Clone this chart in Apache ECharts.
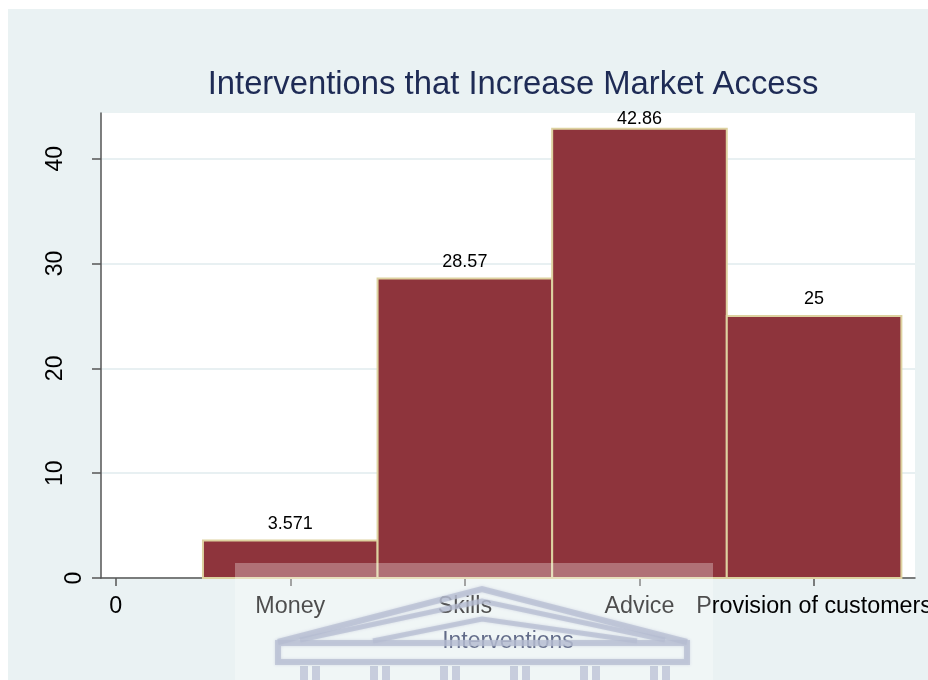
<!DOCTYPE html>
<html><head><meta charset="utf-8">
<script src="https://cdn.jsdelivr.net/npm/echarts@6/dist/echarts.min.js"></script>
<style>html,body{margin:0;padding:0;background:#fff}#c{width:928px;height:680px}</style>
</head><body><div id="c"></div>
<script>
const categories = ['Money', 'Skills', 'Advice', 'Provision of customers'];
const positions = [1, 2, 3, 4];
const values = [3.571, 28.57, 42.86, 25];
const valueLabels = ['3.571', '28.57', '42.86', '25'];
const xTickValues = [0, 1, 2, 3, 4];
const xTickLabels = ['0', 'Money', 'Skills', 'Advice', 'Provision of customers'];
const yTickValues = [0, 10, 20, 30, 40];
const yTickLabels = ['0', '10', '20', '30', '40'];

const FONT = '"Liberation Sans", Arial, sans-serif';
const chart = echarts.init(document.getElementById('c'), null, {renderer: 'canvas'});

const seriesData = positions.map((p, i) => [p, values[i], i]);

function renderItem(params, api) {
  const x = api.value(0), y = api.value(1), idx = api.value(2);
  const p0 = api.coord([x - 0.5, 0]);
  const p1 = api.coord([x + 0.5, y]);
  const cs = params.coordSys;
  const ty = Math.max(p1[1] - 7.5, cs.y + 15);
  return {
    type: 'group',
    children: [
      {type: 'rect', shape: {x: p0[0], y: p1[1], width: p1[0] - p0[0], height: p0[1] - p1[1]},
       style: {fill: '#8e343c', stroke: '#ddd2a0', lineWidth: 2}},
      {type: 'text', style: {text: valueLabels[idx], x: (p0[0] + p1[0]) / 2, y: ty,
        align: 'center', verticalAlign: 'bottom', fontSize: 18, fontFamily: FONT, fill: '#000'}}
    ]
  };
}

// watermark-like building sketch
const bc = 'rgba(150,160,190,0.7)';
const building = [
  {type: 'polyline', shape: {points: [[278, 642], [482, 589], [687, 642]]}, style: {stroke: bc, lineWidth: 6, fill: null, shadowBlur: 3, shadowColor: bc}, z: 1},
  {type: 'polyline', shape: {points: [[300, 640], [482, 601], [665, 640]]}, style: {stroke: bc, lineWidth: 5, fill: null, shadowBlur: 3, shadowColor: bc}, z: 1},
  {type: 'polyline', shape: {points: [[373, 641], [482, 619], [637, 641]]}, style: {stroke: bc, lineWidth: 5, fill: null, shadowBlur: 3, shadowColor: bc}, z: 1},
  {type: 'rect', shape: {x: 278, y: 643, width: 409, height: 19}, style: {stroke: bc, lineWidth: 6, fill: null, shadowBlur: 3, shadowColor: bc}, z: 1}
];
const colX = [300, 312, 370, 382, 440, 452, 510, 522, 580, 592, 650, 662];
colX.forEach(cx => building.push({type: 'rect', shape: {x: cx, y: 666, width: 8, height: 14}, style: {fill: bc}, z: 1}));

const option = {
  animation: false,
  backgroundColor: '#ffffff',
  title: {
    text: 'Interventions that Increase Market Access',
    left: 508, top: 63, textAlign: 'center',
    textStyle: {fontFamily: FONT, fontSize: 32.8, fontWeight: 'normal', color: '#1e2b55'}
  },
  graphic: [
    {type: 'rect', shape: {x: 8, y: 9, width: 920, height: 671}, style: {fill: '#eaf2f3'}, z: -10, silent: true},
    ...building,
    {type: 'rect', shape: {x: 235, y: 563, width: 478, height: 117}, style: {fill: 'rgba(255,255,255,0.3)'}, z: 100, silent: true}
  ],
  grid: {left: 101, right: 13, top: 113, bottom: 102, show: true, backgroundColor: '#ffffff', borderWidth: 0,
    containLabel: false, outerBoundsMode: 'none'},
  xAxis: {
    type: 'value', min: -0.084, max: 4.578,
    name: 'Interventions', nameLocation: 'middle', nameGap: 52,
    nameTextStyle: {fontFamily: FONT, fontSize: 23, color: '#1e2b55'},
    axisLine: {show: true, onZero: false, lineStyle: {color: '#555', width: 1.5}},
    axisTick: {show: true, length: 8, lineStyle: {color: '#555', width: 1.5}, customValues: xTickValues},
    axisLabel: {customValues: xTickValues, fontFamily: FONT, fontSize: 23.3, color: '#000', margin: 17,
      formatter: v => xTickLabels[xTickValues.indexOf(Math.round(v))]},
    splitLine: {show: false}
  },
  yAxis: {
    type: 'value', min: 0, max: 44.36,
    axisLine: {show: true, onZero: false, lineStyle: {color: '#555', width: 1.5}},
    axisTick: {show: true, length: 9, lineStyle: {color: '#555', width: 1.5}, customValues: yTickValues},
    axisLabel: {customValues: yTickValues, rotate: 90, fontFamily: FONT, fontSize: 23, color: '#000', margin: 15,
      formatter: v => {
        const i = yTickValues.indexOf(Math.round(v));
        return i === 0 ? '{z|' + yTickLabels[i] + '}' : '{n|' + yTickLabels[i] + '}';
      },
      rich: {
        z: {fontFamily: FONT, fontSize: 23, color: '#000'},
        n: {fontFamily: FONT, fontSize: 23, color: '#000', padding: [0, 0, 19, 0]}
      }
    },
    splitLine: {show: true, lineStyle: {color: '#e8f0f2', width: 2}}
  },
  series: [{
    type: 'custom', renderItem: renderItem, data: seriesData,
    encode: {x: 0, y: 1}, clip: false, z: 2
  }]
};
chart.setOption(option);
</script></body></html>
